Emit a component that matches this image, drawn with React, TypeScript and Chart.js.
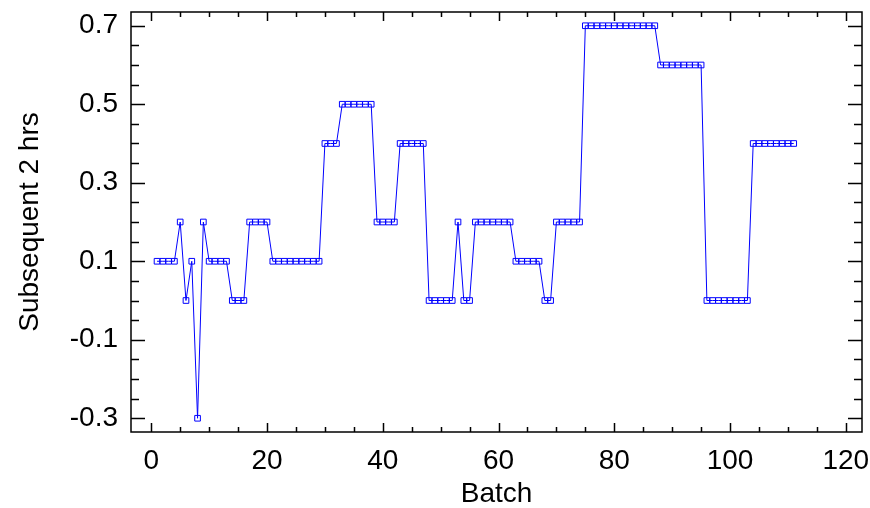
import React, { useEffect, useRef } from "react";
import { Chart, registerables } from "chart.js";

Chart.register(...registerables);

const batches = [
  1, 2, 3, 4, 5, 6, 7, 8, 9, 10, 11, 12, 13, 14, 15, 16, 17, 18, 19, 20,
  21, 22, 23, 24, 25, 26, 27, 28, 29, 30, 31, 32, 33, 34, 35, 36, 37, 38, 39, 40,
  41, 42, 43, 44, 45, 46, 47, 48, 49, 50, 51, 52, 53, 54, 55, 56, 57, 58, 59, 60,
  61, 62, 63, 64, 65, 66, 67, 68, 69, 70, 71, 72, 73, 74, 75, 76, 77, 78, 79, 80,
  81, 82, 83, 84, 85, 86, 87, 88, 89, 90, 91, 92, 93, 94, 95, 96, 97, 98, 99, 100,
  101, 102, 103, 104, 105, 106, 107, 108, 109, 110, 111,
];

const subsequent2hrs = [
  0.1, 0.1, 0.1, 0.1, 0.2, 0.0, 0.1, -0.3, 0.2, 0.1,
  0.1, 0.1, 0.1, 0.0, 0.0, 0.0, 0.2, 0.2, 0.2, 0.2,
  0.1, 0.1, 0.1, 0.1, 0.1, 0.1, 0.1, 0.1, 0.1, 0.4,
  0.4, 0.4, 0.5, 0.5, 0.5, 0.5, 0.5, 0.5, 0.2, 0.2,
  0.2, 0.2, 0.4, 0.4, 0.4, 0.4, 0.4, 0.0, 0.0, 0.0,
  0.0, 0.0, 0.2, 0.0, 0.0, 0.2, 0.2, 0.2, 0.2, 0.2,
  0.2, 0.2, 0.1, 0.1, 0.1, 0.1, 0.1, 0.0, 0.0, 0.2,
  0.2, 0.2, 0.2, 0.2, 0.7, 0.7, 0.7, 0.7, 0.7, 0.7,
  0.7, 0.7, 0.7, 0.7, 0.7, 0.7, 0.7, 0.6, 0.6, 0.6,
  0.6, 0.6, 0.6, 0.6, 0.6, 0.0, 0.0, 0.0, 0.0, 0.0,
  0.0, 0.0, 0.0, 0.4, 0.4, 0.4, 0.4, 0.4, 0.4, 0.4,
  0.4,
];

const xTickLabels = [0, 20, 40, 60, 80, 100, 120];
const yTickLabels = [-0.3, -0.1, 0.1, 0.3, 0.5, 0.7];

const X_MIN = -3.5;
const X_MAX = 122.8;
const Y_MIN = -0.335;
const Y_MAX = 0.735;

const FONT = "'Liberation Sans', Arial, sans-serif";

const framePlugin = {
  id: "framePlugin",
  afterDraw(chart: any) {
    const { ctx, chartArea } = chart;
    const { left, right, top, bottom } = chartArea;
    const xs = chart.scales.x;
    const ys = chart.scales.y;
    ctx.save();
    ctx.strokeStyle = "#000";
    ctx.lineWidth = 1.5;
    ctx.strokeRect(left, top, right - left, bottom - top);
    ctx.beginPath();
    for (let v = 0; v <= 120; v += 5) {
      const px = Math.round(xs.getPixelForValue(v)) + 0.5;
      if (px < left || px > right) continue;
      const major = xTickLabels.includes(v);
      const len = major ? 9 : 5;
      ctx.moveTo(px, bottom);
      ctx.lineTo(px, bottom - len);
      ctx.moveTo(px, top);
      ctx.lineTo(px, top + len);
    }
    for (let i = -6; i <= 14; i++) {
      const v = i * 0.05;
      const py = Math.round(ys.getPixelForValue(v)) + 0.5;
      if (py < top || py > bottom) continue;
      const major = yTickLabels.some((t) => Math.abs(t - v) < 1e-6);
      const len = major ? 14 : 8;
      ctx.moveTo(left, py);
      ctx.lineTo(left + len, py);
      ctx.moveTo(right, py);
      ctx.lineTo(right - len, py);
    }
    ctx.stroke();
    ctx.restore();
  },
};

export default function App() {
  const canvasRef = useRef<HTMLCanvasElement | null>(null);

  useEffect(() => {
    const canvas = canvasRef.current;
    if (!canvas) return;
    const points = batches.map((b, i) => ({ x: b, y: subsequent2hrs[i] }));
    const chart = new Chart(canvas, {
      type: "line",
      data: {
        datasets: [
          {
            label: "Subsequent 2 hrs",
            data: points,
            borderColor: "#0000ff",
            borderWidth: 1,
            tension: 0,
            pointStyle: "rect",
            pointRadius: 4,
            pointBorderWidth: 1,
            pointBorderColor: "#0000ff",
            pointBackgroundColor: "rgba(0,0,0,0)",
            fill: false,
          },
        ],
      },
      options: {
        responsive: false,
        animation: false,
        devicePixelRatio: 1,
        layout: { padding: { top: 12, right: 8, left: 0, bottom: 0 } },
        plugins: {
          legend: { display: false },
          tooltip: { enabled: false },
        },
        scales: {
          x: {
            type: "linear",
            min: X_MIN,
            max: X_MAX,
            afterBuildTicks: (scale: any) => {
              scale.ticks = xTickLabels.map((v) => ({ value: v }));
            },
            afterFit: (scale: any) => {
              scale.height = 76;
              scale.paddingLeft = 0;
              scale.paddingRight = 0;
            },
            ticks: {
              color: "#000",
              font: { family: FONT, size: 28 },
              padding: 12,
              maxRotation: 0,
              autoSkip: false,
              callback: (v: any) => String(v),
            },
            grid: { display: false, drawTicks: false },
            border: { display: false },
            title: {
              display: true,
              text: "Batch",
              color: "#000",
              font: { family: FONT, size: 28, lineHeight: 1 },
              padding: { top: 0, bottom: 0 },
            },
          },
          y: {
            type: "linear",
            min: Y_MIN,
            max: Y_MAX,
            afterBuildTicks: (scale: any) => {
              scale.ticks = yTickLabels.map((v) => ({ value: v }));
            },
            afterFit: (scale: any) => {
              scale.width = 131;
              scale.paddingTop = 0;
              scale.paddingBottom = 0;
            },
            ticks: {
              color: "#000",
              font: { family: FONT, size: 28 },
              padding: 13,
              autoSkip: false,
              callback: (v: any) => Number(v).toFixed(1),
            },
            grid: { display: false, drawTicks: false },
            border: { display: false },
            title: {
              display: true,
              text: "Subsequent 2 hrs",
              color: "#000",
              font: { family: FONT, size: 28, lineHeight: 1 },
              padding: { top: 16, bottom: 0 },
            },
          },
        },
      },
      plugins: [framePlugin],
    });
    return () => chart.destroy();
  }, []);

  return (
    <div style={{ position: "absolute", left: 0, top: 0, width: 870, height: 508, background: "#fff" }}>
      <canvas ref={canvasRef} width={870} height={508} style={{ display: "block" }} />
    </div>
  );
}
